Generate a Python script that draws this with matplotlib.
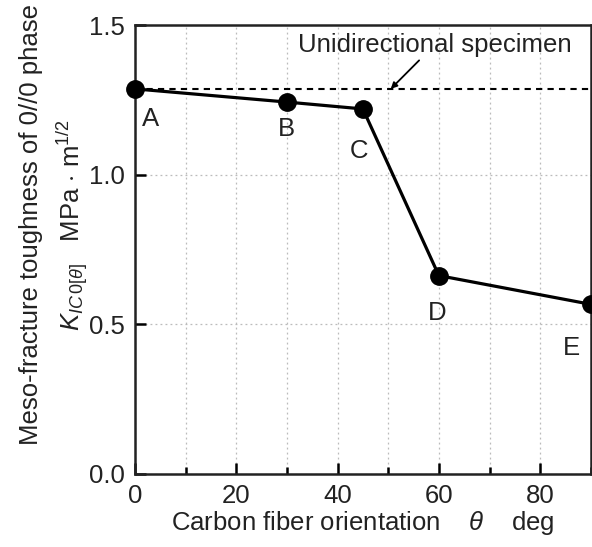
import matplotlib.pyplot as plt
from matplotlib.ticker import MultipleLocator

plt.rcParams['font.family'] = ['Liberation Sans', 'DejaVu Sans']
plt.rcParams['mathtext.fontset'] = 'custom'
plt.rcParams['mathtext.rm'] = 'Liberation Sans'
plt.rcParams['mathtext.it'] = 'Liberation Sans:italic'

# data
angles = [0, 30, 45, 60, 90]
toughness = [1.287, 1.243, 1.22, 0.663, 0.567]
point_names = ['A', 'B', 'C', 'D', 'E']
unidirectional = 1.287

# label offsets (data units) for the point letters
label_dx = [3, 0, -0.8, -0.4, -3.8]
label_dy = [-0.1, -0.09, -0.14, -0.126, -0.147]

fs = 18.5

fig = plt.figure(figsize=(5.92, 5.47), dpi=100)
ax = fig.add_axes([0.228, 0.1335, 0.77, 0.8205])

ax.plot(angles, toughness, color='black', lw=2.3, marker='o', ms=12.5,
        clip_on=False, zorder=5)
ax.axhline(unidirectional, color='black', lw=1.5, ls=(0, (3, 2.5)), zorder=4)

for x, y, name, dx, dy in zip(angles, toughness, point_names, label_dx, label_dy):
    ax.text(x + dx, y + dy, name, ha='center', va='center', fontsize=fs,
            color='#222222')

ax.annotate('Unidirectional specimen', xy=(50.5, unidirectional),
            xytext=(59.2, 1.435), ha='center', va='center', fontsize=fs,
            color='#222222',
            arrowprops=dict(arrowstyle='-|>', color='black', lw=1.3,
                            shrinkA=1, shrinkB=0, mutation_scale=9))

ax.set_xlim(0, 90)
ax.set_ylim(0, 1.5)
ax.xaxis.set_major_locator(MultipleLocator(20))
ax.xaxis.set_minor_locator(MultipleLocator(10))
ax.yaxis.set_major_locator(MultipleLocator(0.5))
ax.yaxis.set_major_formatter(plt.FormatStrFormatter('%.1f'))

ax.tick_params(which='both', direction='in', labelsize=fs, width=1.8,
               colors='black', labelcolor='#222222')
ax.tick_params(which='major', length=8, pad=7)
ax.tick_params(which='minor', length=5)

ax.grid(True, which='both', axis='x', color='#bbbbbb', ls=(0, (1.5, 2.5)), lw=0.9)
ax.grid(True, which='major', axis='y', color='#bbbbbb', ls=(0, (1.5, 2.5)), lw=0.9)
ax.set_axisbelow(True)

for s in ax.spines.values():
    s.set_linewidth(1.8)
    s.set_color('#222222')

ax.set_xlabel(r'Carbon fiber orientation    $\theta$    deg', fontsize=fs,
              labelpad=1, color='#222222')
ax.set_ylabel('Meso-fracture toughness of 0//0 phase\n'
              r'$K_{IC\,0[\theta]}$   MPa $\cdot$ m$^{1/2}$',
              fontsize=fs, color='#222222', linespacing=1.45)
ax.yaxis.set_label_coords(-0.098, 0.555)

fig.savefig('out.png', dpi=100)
